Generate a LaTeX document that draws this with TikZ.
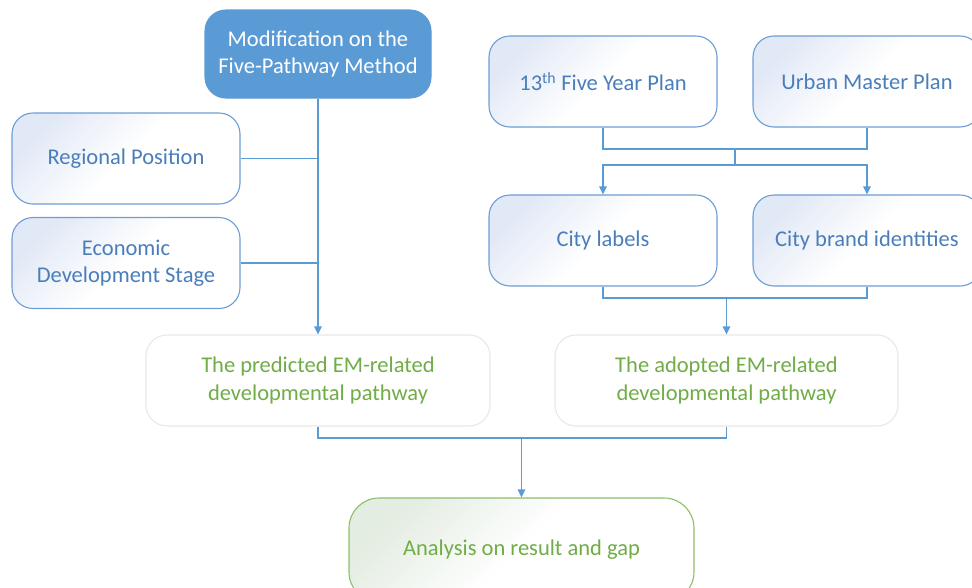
\documentclass[tikz,border=0pt]{standalone}
\usepackage{fontspec}
\setmainfont{Carlito}
\usetikzlibrary{arrows.meta}
\definecolor{lineblue}{RGB}{91,155,213}
\definecolor{txtblue}{RGB}{74,126,187}
\definecolor{boxborder}{RGB}{108,157,212}
\definecolor{boxfill}{RGB}{226,233,246}
\definecolor{grn}{RGB}{112,173,71}
\definecolor{grnborder}{RGB}{140,190,105}
\definecolor{grnfill}{RGB}{228,237,226}
\definecolor{greyborder}{RGB}{232,232,232}
\begin{document}
\begin{tikzpicture}[x=1pt,y=-1pt,
  base/.style={rounded corners=21pt, align=center, inner sep=0pt,
    font=\fontsize{22.5}{27.5}\selectfont, line width=1.1pt},
  bluebox/.style={base, draw=boxborder, top color=boxfill, bottom color=white,
    middle color=white, shading angle=45, text=txtblue,
    minimum width=228pt, minimum height=91pt},
  topbox/.style={base, fill=lineblue, draw=lineblue, text=white,
    minimum width=226pt, minimum height=88pt},
  greybox/.style={base, draw=greyborder, fill=white, text=grn,
    minimum width=344pt, minimum height=91pt},
  greenbox/.style={base, rounded corners=30pt, draw=grnborder, top color=grnfill,
    bottom color=white, middle color=white, shading angle=45, text=grn,
    minimum width=345pt, minimum height=104pt},
  conn/.style={draw=lineblue, line width=1.3pt},
  arr/.style={conn, -{Triangle[length=8pt,width=7.5pt]}}
]
\useasboundingbox (0,0) rectangle (972,587);
\clip (0,0) rectangle (972,587);

% left column
\node[topbox] (mod) at (318,54) {Modification on the\\Five-Pathway Method};
\node[bluebox] (reg) at (126,158.5) {Regional Position};
\node[bluebox] (eco) at (126,263) {Economic\\Development Stage};
\node[greybox] (pred) at (318,380.5) {The predicted EM-related\\developmental pathway};

% right column
\node[bluebox] (five) at (603,81.5) {13\textsuperscript{th} Five Year Plan};
\node[bluebox] (urban) at (867,81.5) {Urban Master Plan};
\node[bluebox] (clab) at (603,240.5) {City labels};
\node[bluebox] (cbrand) at (867,240.5) {City brand identities};
\node[greybox, minimum width=343pt] (adopt) at (726.5,380.5) {The adopted EM-related\\developmental pathway};

% bottom
\node[greenbox] (ana) at (521.5,550) {Analysis on result and gap};

% connectors left
\draw[arr] (mod.south) -- (pred.north);
\draw[conn] (reg.east) -- (reg.east -| mod.south);
\draw[conn] (eco.east) -- (eco.east -| mod.south);

% connectors right top
\coordinate (j1) at (735,149);
\coordinate (j2) at (735,165);
\draw[conn] (five.south) |- (j1) -| (urban.south);
\draw[conn] (j1) -- (j2);
\draw[arr] (j2) -| (clab.north);
\draw[arr] (j2) -| (cbrand.north);

% connectors right middle
\coordinate (j3) at (726.5,298);
\draw[conn] (clab.south) |- (j3) -| (cbrand.south);
\draw[arr] (j3) -- (adopt.north);

% connectors bottom
\coordinate (j4) at (521.5,438);
\draw[conn] (pred.south) |- (j4) -| (adopt.south);
\draw[arr] (j4) -- (ana.north);
\end{tikzpicture}
\end{document}
